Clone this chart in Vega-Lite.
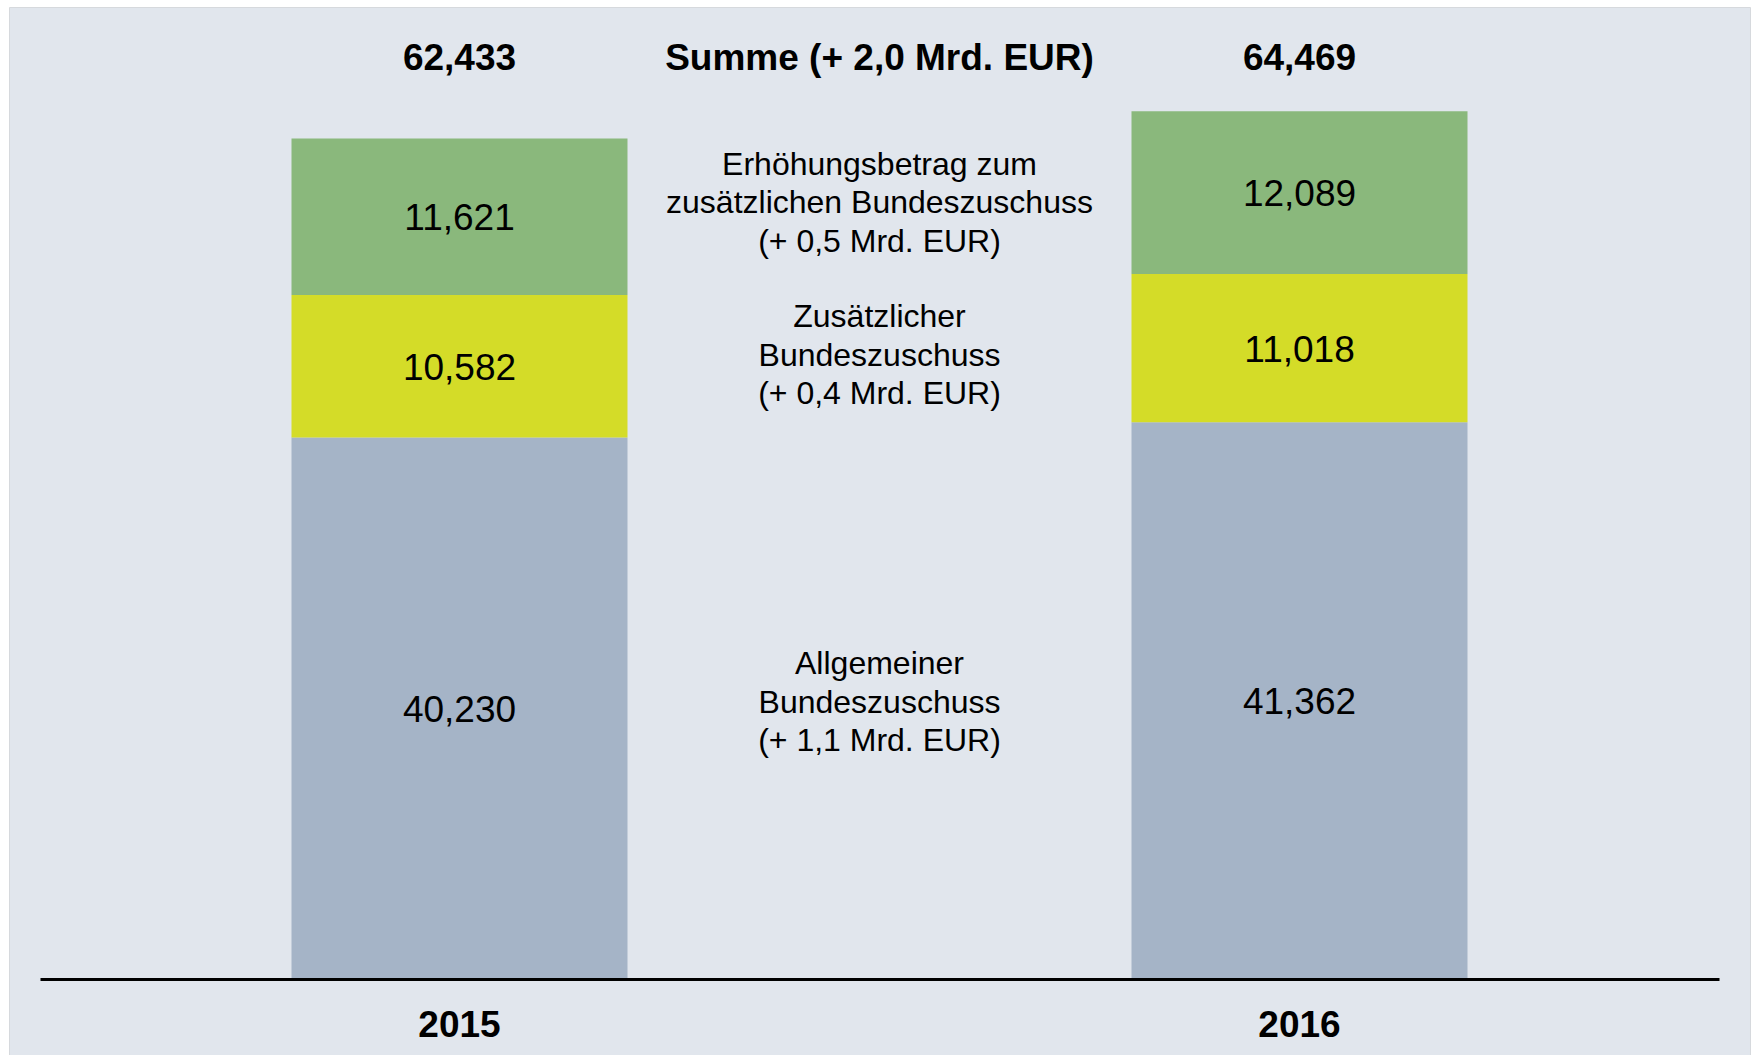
{
  "$schema": "https://vega.github.io/schema/vega-lite/v6.json",
  "autosize": "none",
  "width": 1741,
  "height": 1050,
  "padding": {"left": 9, "top": 7, "right": 5, "bottom": 0},
  "background": "#ffffff",
  "config": {
    "view": {"fill": "#e1e6ed", "stroke": "#d6d9dd", "strokeWidth": 1},
    "font": "Liberation Sans",
    "text": {"font": "Liberation Sans", "color": "#000000"}
  },
  "data": {
    "values": [
      {"year": "2015", "category": "Allgemeiner Bundeszuschuss", "idx": 1, "value": 40230, "note": "Allgemeiner\nBundeszuschuss\n(+ 1,1 Mrd. EUR)"},
      {"year": "2015", "category": "Zusätzlicher Bundeszuschuss", "idx": 2, "value": 10582, "note": "Zusätzlicher\nBundeszuschuss\n(+ 0,4 Mrd. EUR)"},
      {"year": "2015", "category": "Erhöhungsbetrag zum zusätzlichen Bundeszuschuss", "idx": 3, "value": 11621, "note": "Erhöhungsbetrag zum\nzusätzlichen Bundeszuschuss\n(+ 0,5 Mrd. EUR)"},
      {"year": "2016", "category": "Allgemeiner Bundeszuschuss", "idx": 1, "value": 41362, "note": "Allgemeiner\nBundeszuschuss\n(+ 1,1 Mrd. EUR)"},
      {"year": "2016", "category": "Zusätzlicher Bundeszuschuss", "idx": 2, "value": 11018, "note": "Zusätzlicher\nBundeszuschuss\n(+ 0,4 Mrd. EUR)"},
      {"year": "2016", "category": "Erhöhungsbetrag zum zusätzlichen Bundeszuschuss", "idx": 3, "value": 12089, "note": "Erhöhungsbetrag zum\nzusätzlichen Bundeszuschuss\n(+ 0,5 Mrd. EUR)"}
    ]
  },
  "encoding": {
    "x": {
      "field": "year",
      "type": "nominal",
      "scale": {"range": [31, 1710], "paddingInner": 0.6, "paddingOuter": 0.2994},
      "axis": {
        "title": null,
        "orient": "bottom",
        "offset": -78,
        "labelAngle": 0,
        "labelFont": "Liberation Sans",
        "labelFontSize": 37,
        "labelFontWeight": "bold",
        "labelColor": "#000000",
        "labelPadding": 57.5,
        "labelBaseline": "alphabetic",
        "ticks": false,
        "tickSize": 0,
        "domainColor": "#000000",
        "domainWidth": 3,
        "zindex": 1
      }
    }
  },
  "layer": [
    {
      "transform": [
        {"stack": "value", "groupby": ["year"], "sort": [{"field": "idx", "order": "ascending"}], "as": ["s0", "s1"]}
      ],
      "mark": {"type": "bar"},
      "encoding": {
        "y": {"field": "s0", "type": "quantitative", "scale": {"domain": [-5795, 72210], "nice": false, "zero": false}, "axis": null},
        "y2": {"field": "s1"},
        "color": {
          "field": "category",
          "type": "nominal",
          "scale": {
            "domain": ["Allgemeiner Bundeszuschuss", "Zusätzlicher Bundeszuschuss", "Erhöhungsbetrag zum zusätzlichen Bundeszuschuss"],
            "range": ["#a5b4c7", "#d4dc28", "#8ab87c"]
          },
          "legend": null
        }
      }
    },
    {
      "transform": [
        {"stack": "value", "groupby": ["year"], "sort": [{"field": "idx", "order": "ascending"}], "as": ["s0", "s1"]},
        {"fold": ["s0", "s1"], "as": ["edge", "pos"]},
        {"aggregate": [{"op": "mean", "field": "pos", "as": "mid"}], "groupby": ["year", "category", "value"]}
      ],
      "mark": {"type": "text", "fontSize": 37, "baseline": "middle", "align": "center", "dy": 2.5},
      "encoding": {
        "y": {"field": "mid", "type": "quantitative"},
        "text": {"field": "value", "type": "quantitative", "format": ","}
      }
    },
    {
      "transform": [
        {"stack": "value", "groupby": ["year"], "sort": [{"field": "idx", "order": "ascending"}], "as": ["s0", "s1"]},
        {"fold": ["s0", "s1"], "as": ["edge", "pos"]},
        {"aggregate": [{"op": "mean", "field": "pos", "as": "mid"}], "groupby": ["category", "note"]}
      ],
      "mark": {"type": "text", "fontSize": 32, "lineHeight": 38.5, "lineBreak": "\n", "baseline": "middle", "align": "center", "dy": -40},
      "encoding": {
        "x": null,
        "y": {"field": "mid", "type": "quantitative"},
        "text": {"field": "note", "type": "nominal"}
      }
    },
    {
      "transform": [
        {"aggregate": [{"op": "sum", "field": "value", "as": "total"}], "groupby": ["year"]}
      ],
      "mark": {"type": "text", "fontSize": 37, "fontWeight": "bold", "baseline": "alphabetic", "align": "center"},
      "encoding": {
        "y": {"datum": 67565, "type": "quantitative"},
        "text": {"field": "total", "type": "quantitative", "format": ","}
      }
    },
    {
      "data": {"values": [{"label": "Summe (+ 2,0 Mrd. EUR)"}]},
      "mark": {"type": "text", "fontSize": 37, "fontWeight": "bold", "baseline": "alphabetic", "align": "center"},
      "encoding": {
        "x": null,
        "y": {"datum": 67565, "type": "quantitative"},
        "text": {"field": "label", "type": "nominal"}
      }
    }
  ]
}
